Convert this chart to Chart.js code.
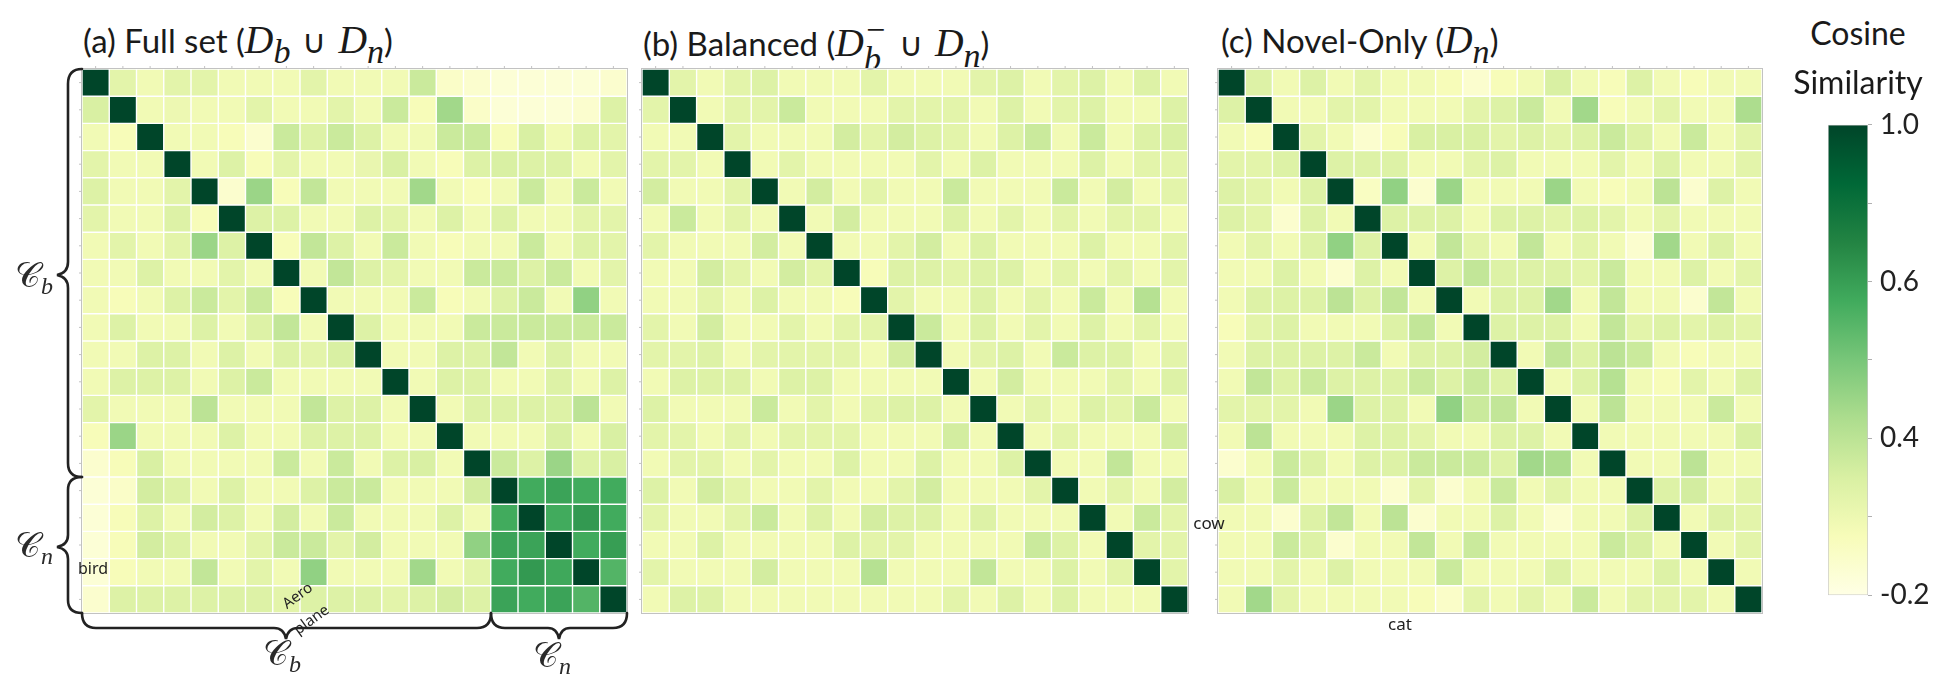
<!DOCTYPE html>
<html>
<head>
<meta charset="utf-8">
<script src="https://cdn.jsdelivr.net/npm/chart.js@4.4.0/dist/chart.umd.min.js"></script>
<style>
  body { margin: 0; width: 1936px; height: 676px; background: #fff; position: relative; overflow: hidden; font-family: Lato, sans-serif; color: #1a1a1a; }
  .panel { position: absolute; }
  .t { position: absolute; white-space: nowrap; line-height: 1; transform: translateY(-50%); }
  .c { position: absolute; white-space: nowrap; line-height: 1; transform: translate(-50%, -50%); }
  .ttl { font-size: 33px; }
  .m { font-family: 'Liberation Serif', serif; font-style: italic; font-size: 1.2em; }
  .m sub { font-size: 0.86em; vertical-align: -0.32em; }
  .cup { display: inline-block; margin: 0 12px; }
  .ss { display: inline-block; vertical-align: -0.4em; font-size: 0.86em; line-height: 0.85; }
  .ss span { display: block; }
  .cal { font-family: 'DejaVu Serif', serif; font-size: 35px; color: #2a2a2a; }
  .cal sub { font-family: 'Liberation Serif', serif; font-style: italic; font-size: 24px; vertical-align: -0.3em; }
  .lab { font-family: 'Noto Sans', sans-serif; font-size: 16px; color: #222; }
  svg { position: absolute; left: 0; top: 0; }
</style>
</head>
<body>

<div class="t ttl" style="left:83px;top:45px">(a) Full set (<span class="m">D<sub>b</sub></span><span class="cup">∪</span><span class="m">D<sub>n</sub></span>)</div>
<div class="t ttl" style="left:643px;top:45px">(b) Balanced (<span class="m">D<span class="ss"><span>−</span><span>b</span></span></span><span class="cup">∪</span><span class="m">D<sub>n</sub></span>)</div>
<div class="t ttl" style="left:1221px;top:45px">(c) Novel-Only (<span class="m">D<sub>n</sub></span>)</div>

<div class="panel" style="left:78px;top:65px;width:553px;height:552px"><canvas id="hmA"></canvas></div>
<div class="panel" style="left:638px;top:65px;width:554px;height:552px"><canvas id="hmB"></canvas></div>
<div class="panel" style="left:1214px;top:65px;width:552px;height:552px"><canvas id="hmC"></canvas></div>
<div class="panel" style="left:1827px;top:100px;width:120px;height:520px"><canvas id="cbar"></canvas></div>

<div class="c" style="left:1858px;top:33px;font-size:32px">Cosine</div>
<div class="c" style="left:1858px;top:82px;font-size:32px">Similarity</div>

<svg width="1936" height="676" fill="none" stroke="#222" stroke-width="2.6" stroke-linecap="round">
  <path d="M82 69 Q68 69 68 84 L68 262 Q68 273 57 275 Q68 277 68 288 L68 463 Q68 477 82 477"/>
  <path d="M82 477 Q68 477 68 490 L68 535 Q68 545 57 547 Q68 549 68 559 L68 600 Q68 613 82 613"/>
  <path d="M82 613 Q82 628 96 628 L274 628 Q284 628 286 639 Q288 628 298 628 L477 628 Q491 628 491 613"/>
  <path d="M491 613 Q491 628 505 628 L548 628 Q557 628 559 639 Q561 628 570 628 L613 628 Q627 628 627 613"/>
</svg>

<div class="c cal" style="left:34px;top:278px"><span>𝒞</span><sub>b</sub></div>
<div class="c cal" style="left:34px;top:548px"><span>𝒞</span><sub>n</sub></div>
<div class="c cal" style="left:282px;top:656px"><span>𝒞</span><sub>b</sub></div>
<div class="c cal" style="left:552px;top:658px"><span>𝒞</span><sub>n</sub></div>

<div class="c lab" style="left:93px;top:568px">bird</div>
<div class="c lab" style="left:297px;top:595px;font-size:15px;transform:translate(-50%,-50%) rotate(-36deg)">Aero</div>
<div class="c lab" style="left:311px;top:619px;font-size:15px;transform:translate(-50%,-50%) rotate(-36deg)">plane</div>
<div class="c lab" style="left:1209px;top:522px;font-size:17px">cow</div>
<div class="c lab" style="left:1400px;top:623px;font-size:17px">cat</div>

<script>
// 15 base classes + 5 novel classes
const classes = ['1', '2', '3', '4', '5', '6', '7', '8', '9', '10', '11', '12', '13', '14', '15', '16', '17', '18', '19', '20']

// (a) Full set
const simFull = [
  [1, .05, -.02, .05, .05, -.02, -.02, -.02, .05, -.02, -.02, -.02, .15, -.1, -.12, -.15, -.15, -.15, -.15, -.12],
  [.1, 1, -.02, 0, -.02, -.02, .05, -.02, -.02, .05, -.02, .15, -.05, .28, -.1, -.15, -.15, -.15, -.12, .08],
  [-.02, -.05, 1, -.02, -.02, -.05, -.12, .15, .08, .15, .08, -.02, -.02, .15, .15, -.05, .1, -.02, .08, .05],
  [.05, -.02, -.02, 1, -.02, .08, -.05, .05, -.02, -.02, .02, .1, -.02, -.05, .08, .1, .08, .08, -.02, .05],
  [.08, -.02, -.02, .05, 1, -.12, .3, -.05, .18, -.02, -.02, -.02, .28, -.02, -.05, -.02, .15, -.02, .15, -.02],
  [.05, -.02, -.02, .08, -.05, 1, .08, .08, -.02, -.02, .08, .05, -.02, .08, -.02, .08, -.02, -.02, .05, .05],
  [-.02, .05, -.02, .05, .3, .08, 1, -.05, .18, .08, -.02, .15, -.02, -.05, -.02, -.02, .15, -.02, .08, .05],
  [-.02, -.02, .08, -.02, -.02, .05, -.02, 1, -.02, .18, .08, .05, -.02, -.02, .15, .15, .08, .15, -.02, .05],
  [-.02, -.05, -.02, .08, .15, .05, .15, -.05, 1, -.02, -.02, -.02, .15, -.05, -.02, .08, .15, -.02, .33, -.02],
  [-.02, .08, -.02, -.02, .08, -.02, .08, .18, -.02, 1, .08, -.02, -.02, -.02, .15, .15, .15, .15, .15, .15],
  [-.02, -.02, .08, .08, -.02, .08, -.02, .08, .05, .1, 1, -.02, -.02, .08, .08, .18, -.02, .08, -.02, -.02],
  [-.02, .08, .08, .08, -.02, .08, .15, -.02, -.02, -.02, -.02, 1, -.02, .08, .08, -.02, -.02, .08, -.02, .08],
  [.05, -.02, -.02, -.02, .2, -.02, -.02, -.02, .18, .08, .08, -.02, 1, -.02, .08, .08, .08, .08, .2, -.02],
  [-.05, .3, -.02, -.02, -.02, .08, -.02, -.02, .08, .08, .08, -.02, -.02, 1, -.02, -.02, -.02, .1, -.02, .1],
  [-.12, -.05, .1, -.02, -.02, -.02, -.02, .15, -.02, .15, -.02, .08, .1, -.02, 1, .15, .08, .3, .08, .1],
  [-.15, -.1, .12, .08, -.02, .08, -.02, -.02, .08, .15, .15, -.02, -.02, -.02, .12, 1, .55, .58, .55, .55],
  [-.15, -.05, .08, -.02, .12, .08, -.02, .12, -.02, .15, -.02, -.02, -.02, .08, -.02, .55, 1, .55, .62, .55],
  [-.15, -.05, .12, .08, -.02, -.02, .05, .15, .15, .05, .12, -.02, -.02, -.02, .33, .58, .58, 1, .55, .6],
  [-.15, -.05, -.02, -.02, .18, -.02, .05, -.02, .33, -.02, -.02, -.02, .28, -.02, .05, .55, .62, .56, 1, .5],
  [-.12, .08, .08, .08, .08, .08, .08, .05, .08, .08, .08, .05, .08, .12, .08, .58, .55, .58, .5, 1]
]

// (b) Balanced
const simBalanced = [
  [1, .05, -.02, .05, .08, -.02, -.02, -.02, .05, -.02, -.02, -.02, .05, .08, -.02, .05, .08, -.02, .08, -.02],
  [.05, 1, -.02, .05, .05, .15, -.02, -.02, -.02, .05, .05, .05, -.02, .08, -.02, .05, .08, -.02, -.02, .08],
  [-.02, -.02, 1, .05, -.02, -.02, -.02, .12, .05, .12, .08, .05, -.02, .08, .15, -.02, .15, -.02, .08, .1],
  [.05, .05, -.02, 1, -.02, .05, -.02, -.02, -.02, -.02, .05, -.02, .08, -.02, -.02, -.02, .08, -.02, .05, .05],
  [.12, -.02, -.02, .05, 1, -.02, .12, -.02, .05, -.02, -.02, .15, -.02, -.02, -.02, .15, -.02, .12, -.02, .05],
  [-.02, .15, -.02, .05, -.02, 1, -.02, .12, -.02, -.02, -.02, .08, -.02, .05, -.02, .05, -.02, .05, .05, -.02],
  [.05, -.02, -.02, -.02, .12, -.02, 1, -.02, -.02, .05, .12, -.02, .08, -.02, -.02, -.02, .08, -.02, -.02, .05],
  [-.02, -.02, .12, .05, -.02, .12, .05, 1, -.05, .08, .08, .05, .08, .08, -.02, .05, -.02, .05, -.02, .05],
  [-.02, -.02, .05, -.02, .08, -.02, -.02, -.05, 1, .05, -.02, -.02, .08, -.02, .05, -.02, .15, -.02, .22, -.02],
  [.05, -.02, .12, -.02, -.02, .05, -.02, .05, .05, 1, .15, -.02, .08, -.02, .05, -.02, .08, -.02, .05, -.02],
  [.05, .05, .08, -.02, .05, .05, .05, .05, -.02, .12, 1, -.02, .05, .08, -.02, .15, .08, .08, -.02, .05],
  [-.02, .08, .08, .08, -.02, .08, .08, -.02, -.02, -.02, -.02, 1, -.02, .12, -.02, -.02, -.02, .05, -.02, .08],
  [.08, -.02, -.02, -.02, .15, -.02, .05, -.02, .05, .08, .08, -.02, 1, -.02, .05, -.02, .08, .05, .15, -.02],
  [.05, .05, -.02, .05, -.02, .05, .05, .05, -.02, -.02, -.02, .12, -.02, 1, -.02, .05, -.02, -.02, -.02, .12],
  [-.02, .05, .05, -.02, .05, -.02, -.02, .08, -.02, -.02, .08, -.02, -.02, .08, 1, -.02, -.02, .18, -.02, -.02],
  [.08, -.02, .12, .05, -.02, -.02, .05, -.02, -.02, .05, .12, -.02, -.02, -.02, .05, 1, -.02, .05, -.02, .12],
  [.05, -.02, -.02, .05, .15, -.02, .08, -.02, .12, .08, .08, -.02, .08, -.02, -.02, -.02, 1, -.02, .15, .05],
  [-.02, -.02, .08, -.02, -.02, -.02, -.02, .08, .05, .05, -.02, -.02, -.02, -.02, .15, .08, -.02, 1, .05, .05],
  [.05, -.02, -.02, -.02, .12, -.02, -.02, -.02, .22, -.02, -.02, -.02, .18, -.02, -.02, .08, -.02, .05, 1, .05],
  [-.02, .08, .08, -.02, -.02, -.02, -.02, -.02, -.02, -.02, -.02, .05, -.02, .08, -.02, .08, -.02, -.02, -.02, 1]
]

// (c) Novel-only
const simNovel = [
  [1, .08, -.02, .08, -.02, .05, -.02, -.02, -.05, -.12, -.05, -.02, .1, -.02, -.05, .08, -.02, -.05, -.02, -.02],
  [.08, 1, -.02, -.02, .05, .05, -.02, -.02, -.02, .05, .08, .15, -.02, .28, -.05, -.02, .05, -.02, -.02, .25],
  [-.02, -.05, 1, .05, -.02, -.12, -.05, .1, .1, .1, .05, .08, .05, .08, .15, .08, -.02, .15, -.02, .05],
  [.05, .05, .08, 1, .08, .08, .08, -.02, -.02, .05, .08, -.02, -.02, -.02, .05, -.02, .08, -.02, -.02, .05],
  [.08, .05, -.02, .08, 1, -.08, .33, -.12, .3, -.02, -.02, -.02, .3, -.02, -.05, -.02, .2, -.12, .08, -.02],
  [.08, .05, -.12, .08, -.02, 1, .08, .08, .08, -.02, .08, .08, .05, .08, .05, -.02, .05, -.02, -.02, -.02],
  [-.02, .05, -.02, .08, .33, .08, 1, -.02, .18, .05, -.02, .18, -.02, .05, -.02, -.12, .28, -.02, .08, -.02],
  [-.02, -.02, .08, -.02, -.12, .08, -.02, 1, .08, .18, .08, .08, .08, .05, .15, -.02, -.02, .08, -.02, .05],
  [-.02, .08, .08, .08, .2, .08, .18, -.02, 1, -.02, .08, .08, .28, -.02, .18, -.02, -.02, -.12, .18, -.02],
  [-.05, .05, .08, -.02, -.02, -.02, .08, .18, -.02, 1, .08, .08, .08, -.02, .18, .05, .08, .05, .08, .05],
  [-.02, .08, .08, .08, .08, .15, -.02, .08, .08, .12, 1, -.02, .18, .08, .2, .15, -.02, -.05, -.02, -.02],
  [-.02, .18, .08, .15, .08, .08, .08, .15, .08, .15, .08, 1, -.02, .08, .22, -.02, -.05, .05, -.02, .08],
  [.05, .05, .05, -.02, .3, .08, .08, -.02, .33, .15, .18, -.02, 1, -.02, .2, -.02, -.02, -.02, .15, -.02],
  [-.02, .2, -.02, -.02, -.02, .08, .08, .05, -.02, -.02, .08, .08, -.02, 1, -.02, -.02, -.02, -.02, -.02, .1],
  [-.12, -.02, .15, .08, -.02, .08, .08, .15, .15, .15, .08, .28, .25, -.02, 1, -.02, -.02, .2, -.02, -.02],
  [.1, -.02, .15, -.02, -.02, -.02, -.12, .05, -.12, -.02, .15, -.02, .05, -.02, -.02, 1, .08, .12, -.02, .05],
  [-.02, -.02, -.12, .08, .18, -.02, .2, -.12, -.02, -.02, .08, -.02, -.12, -.02, -.02, .08, 1, -.02, .08, .05],
  [-.02, -.02, .15, .08, -.12, -.02, -.02, .18, -.02, .15, -.02, -.02, -.02, -.02, .15, .1, -.02, 1, -.02, .05],
  [-.02, -.02, .05, -.02, .08, -.02, -.02, -.02, .15, -.02, -.02, -.02, .08, -.02, -.02, -.02, .08, -.02, 1, -.02],
  [-.02, .28, .05, -.02, -.02, -.02, -.02, -.05, -.1, .05, -.02, .05, -.02, .15, -.02, .05, .05, .05, -.02, 1]
]

// colour bar
const cbMin = -0.2
const cbMax = 1.0
const cbTickValues = [1.0, 0.8, 0.6, 0.4, 0.2, 0.0, -0.2]
const cbTickLabels = ['1.0', '', '0.6', '', '0.4', '', '-0.2']

// YlGn
const ylgnStops = ['#ffffe5', '#f7fcb9', '#d9f0a3', '#addd8e', '#78c679', '#41ab5d', '#238443', '#006837', '#004529']

const hexRgb = (h) => [1, 3, 5].map(i => parseInt(h.slice(i, i + 2), 16))

const ylgn = (v) => {
    const n = ylgnStops.length - 1
    let t = (v - cbMin) / (cbMax - cbMin) * n
    t = Math.max(0, Math.min(n, t))
    const i = Math.min(Math.floor(t), n - 1)
    const f = t - i
    const a = hexRgb(ylgnStops[i]), b = hexRgb(ylgnStops[i + 1])
    const c = a.map((x, k) => Math.round(x + (b[k] - x) * f))
    return `rgb(${c[0]},${c[1]},${c[2]})`
}

// grey frame + tiny ticks round each matrix
const frame = {
    id: 'frame',
    afterDraw(chart) {
        const {ctx, chartArea: {left, top, right, bottom}, scales: {x, y}} = chart
        ctx.save()
        ctx.strokeStyle = '#c2c2c2'
        ctx.lineWidth = 1
        ctx.strokeRect(left - 0.5, top - 0.5, right - left + 1, bottom - top + 1)
        ctx.beginPath()
        classes.forEach((c, i) => {
            const px = x.getPixelForValue(i)
            ctx.moveTo(px, top - 0.5)
            ctx.lineTo(px, top - 3)
            const py = y.getPixelForValue(i + 0.5)
            ctx.moveTo(left - 0.5, py)
            ctx.lineTo(left - 3, py)
        })
        ctx.stroke()
        ctx.restore()
    }
}

const heatmap = (id, rows) => {
    new Chart(document.getElementById(id), {
        type: 'bar',
        data: {
            labels: classes,
            datasets: rows.map((vals, r) => ({
                label: classes[r],
                data: vals.map(() => 1),
                backgroundColor: vals.map(ylgn),
                borderColor: '#ffffff',
                borderWidth: 0.7,
                borderSkipped: false,
                inflateAmount: 0,
                barPercentage: 1,
                categoryPercentage: 1
            }))
        },
        options: {
            responsive: true,
            maintainAspectRatio: false,
            animation: false,
            layout: { padding: 4 },
            plugins: { legend: { display: false }, tooltip: { enabled: false } },
            scales: {
                x: { stacked: true, display: false },
                y: { stacked: true, display: false, reverse: true, min: 0, max: classes.length }
            }
        },
        plugins: [frame]
    })
}

const colorBar = () => {
    new Chart(document.getElementById('cbar'), {
        type: 'bar',
        data: {
            labels: ['Cosine Similarity'],
            datasets: [{
                data: [[cbMin, cbMax]],
                backgroundColor: (c) => {
                    const {chart} = c
                    if (!chart.chartArea) return null
                    const y = chart.scales.y
                    const g = chart.ctx.createLinearGradient(0, y.getPixelForValue(cbMin), 0, y.getPixelForValue(cbMax))
                    ylgnStops.forEach((s, i) => g.addColorStop(i / (ylgnStops.length - 1), s))
                    return g
                },
                borderColor: '#c8c8c8',
                borderWidth: 1,
                borderSkipped: false,
                barPercentage: 1,
                categoryPercentage: 1
            }]
        },
        options: {
            responsive: true,
            maintainAspectRatio: false,
            animation: false,
            layout: { padding: { top: 16, bottom: 17, left: 1, right: 0 } },
            plugins: { legend: { display: false }, tooltip: { enabled: false } },
            scales: {
                x: { display: false },
                y: {
                    position: 'right',
                    min: cbMin,
                    max: cbMax,
                    afterFit: (s) => { s.width = 79 },
                    afterBuildTicks: (s) => { s.ticks = cbTickValues.map(v => ({ value: v })) },
                    ticks: {
                        callback: (v, i) => cbTickLabels[i],
                        font: { family: 'Lato', size: 28 },
                        color: '#222',
                        padding: 8
                    },
                    grid: { display: true, drawOnChartArea: false, tickLength: 4, color: '#b0b0b0' },
                    border: { display: false }
                }
            }
        }
    })
}

heatmap('hmA', simFull)
heatmap('hmB', simBalanced)
heatmap('hmC', simNovel)
colorBar()
</script>
</body>
</html>
